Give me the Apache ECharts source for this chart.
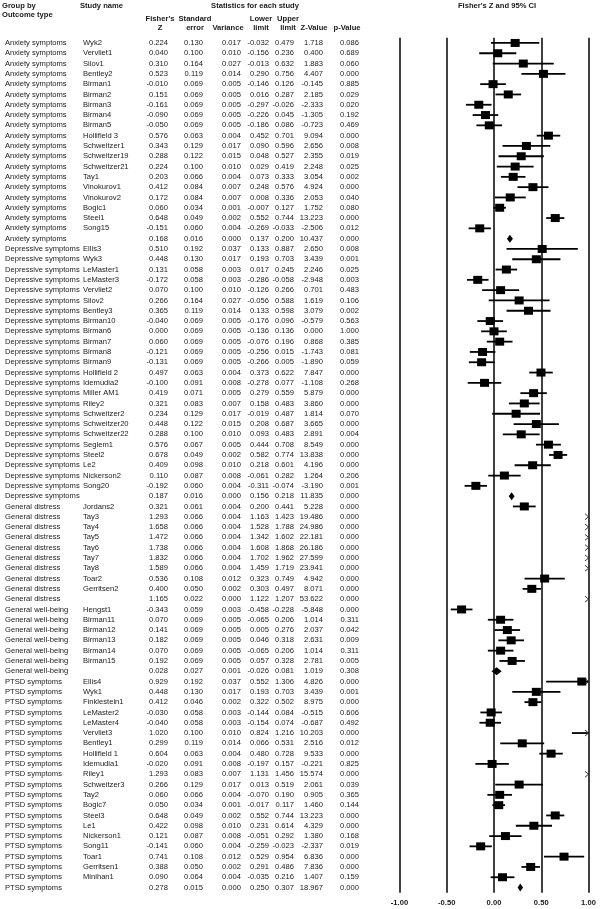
<!DOCTYPE html>
<html><head><meta charset="utf-8">
<script src="https://cdn.jsdelivr.net/npm/echarts@6/dist/echarts.min.js"></script>
<style>html,body{margin:0;padding:0;background:#fff}#c{width:600px;height:909px}</style>
</head><body><div id="c"></div>
<script>
const groups = [
 'Anxiety symptoms','Anxiety symptoms','Anxiety symptoms','Anxiety symptoms','Anxiety symptoms','Anxiety symptoms','Anxiety symptoms','Anxiety symptoms','Anxiety symptoms','Anxiety symptoms',
 'Anxiety symptoms','Anxiety symptoms','Anxiety symptoms','Anxiety symptoms','Anxiety symptoms','Anxiety symptoms','Anxiety symptoms','Anxiety symptoms','Anxiety symptoms','Anxiety symptoms',
 'Depressive symptoms','Depressive symptoms','Depressive symptoms','Depressive symptoms','Depressive symptoms','Depressive symptoms','Depressive symptoms','Depressive symptoms','Depressive symptoms','Depressive symptoms',
 'Depressive symptoms','Depressive symptoms','Depressive symptoms','Depressive symptoms','Depressive symptoms','Depressive symptoms','Depressive symptoms','Depressive symptoms','Depressive symptoms','Depressive symptoms',
 'Depressive symptoms','Depressive symptoms','Depressive symptoms','Depressive symptoms','Depressive symptoms',
 'General distress','General distress','General distress','General distress','General distress','General distress','General distress','General distress','General distress','General distress',
 'General well-being','General well-being','General well-being','General well-being','General well-being','General well-being','General well-being',
 'PTSD symptoms','PTSD symptoms','PTSD symptoms','PTSD symptoms','PTSD symptoms','PTSD symptoms','PTSD symptoms','PTSD symptoms','PTSD symptoms','PTSD symptoms',
 'PTSD symptoms','PTSD symptoms','PTSD symptoms','PTSD symptoms','PTSD symptoms','PTSD symptoms','PTSD symptoms','PTSD symptoms','PTSD symptoms','PTSD symptoms','PTSD symptoms'
];
const studies = [
 'Wyk2','Vervliet1','Silov1','Bentley2','Birman1','Birman2','Birman3','Birman4','Birman5','Hollifield 3',
 'Schweitzer1','Schweitzer19','Schweitzer21','Tay1','Vinokurov1','Vinokurov2','Bogic1','Steel1','Song15','',
 'Ellis3','Wyk3','LeMaster1','LeMaster3','Vervliet2','Silov2','Bentley3','Birman10','Birman6','Birman7',
 'Birman8','Birman9','Hollifield 2','Idemudia2','Miller AM1','Riley2','Schweitzer2','Schweitzer20','Schweitzer22','Seglem1',
 'Steel2','Le2','Nickerson2','Song20','',
 'Jordans2','Tay3','Tay4','Tay5','Tay6','Tay7','Tay8','Toar2','Gerritsen2','',
 'Hengst1','Birman11','Birman12','Birman13','Birman14','Birman15','',
 'Ellis4','Wyk1','Finklestein1','LeMaster2','LeMaster4','Vervliet3','Bentley1','Hollifield 1','Idemudia1','Riley1',
 'Schweitzer3','Tay2','Bogic7','Steel3','Le1','Nickerson1','Song11','Toar1','Gerritsen1','Minihan1',''
];
const fisherZ = [
 0.224,0.040,0.310,0.523,-0.010,0.151,-0.161,-0.090,-0.050,0.576,
 0.343,0.288,0.224,0.203,0.412,0.172,0.060,0.648,-0.151,0.168,
 0.510,0.448,0.131,-0.172,0.070,0.266,0.365,-0.040,0.000,0.060,
 -0.121,-0.131,0.497,-0.100,0.419,0.321,0.234,0.448,0.288,0.576,
 0.678,0.409,0.110,-0.192,0.187,
 0.321,1.293,1.658,1.472,1.738,1.832,1.589,0.536,0.400,1.165,
 -0.343,0.070,0.141,0.182,0.070,0.192,0.028,
 0.929,0.448,0.412,-0.030,-0.040,1.020,0.299,0.604,-0.020,1.293,
 0.266,0.060,0.050,0.648,0.422,0.121,-0.141,0.741,0.388,0.090,0.278
];
const stdErr = [
 0.130,0.100,0.164,0.119,0.069,0.069,0.069,0.069,0.069,0.063,
 0.129,0.122,0.100,0.066,0.084,0.084,0.034,0.049,0.060,0.016,
 0.192,0.130,0.058,0.058,0.100,0.164,0.119,0.069,0.069,0.069,
 0.069,0.069,0.063,0.091,0.071,0.083,0.129,0.122,0.100,0.067,
 0.049,0.098,0.087,0.060,0.016,
 0.061,0.066,0.066,0.066,0.066,0.066,0.066,0.108,0.050,0.022,
 0.059,0.069,0.069,0.069,0.069,0.069,0.027,
 0.192,0.130,0.046,0.058,0.058,0.100,0.119,0.063,0.091,0.083,
 0.129,0.066,0.034,0.049,0.098,0.087,0.060,0.108,0.050,0.064,0.015
];
const variance = [
 0.017,0.010,0.027,0.014,0.005,0.005,0.005,0.005,0.005,0.004,
 0.017,0.015,0.010,0.004,0.007,0.007,0.001,0.002,0.004,0.000,
 0.037,0.017,0.003,0.003,0.010,0.027,0.014,0.005,0.005,0.005,
 0.005,0.005,0.004,0.008,0.005,0.007,0.017,0.015,0.010,0.005,
 0.002,0.010,0.008,0.004,0.000,
 0.004,0.004,0.004,0.004,0.004,0.004,0.004,0.012,0.002,0.000,
 0.003,0.005,0.005,0.005,0.005,0.005,0.001,
 0.037,0.017,0.002,0.003,0.003,0.010,0.014,0.004,0.008,0.007,
 0.017,0.004,0.001,0.002,0.010,0.008,0.004,0.012,0.002,0.004,0.000
];
const lowerLimit = [
 -0.032,-0.156,-0.013,0.290,-0.146,0.016,-0.297,-0.226,-0.186,0.452,
 0.090,0.048,0.029,0.073,0.248,0.008,-0.007,0.552,-0.269,0.137,
 0.133,0.193,0.017,-0.286,-0.126,-0.056,0.133,-0.176,-0.136,-0.076,
 -0.256,-0.266,0.373,-0.278,0.279,0.158,-0.019,0.208,0.093,0.444,
 0.582,0.218,-0.061,-0.311,0.156,
 0.200,1.163,1.528,1.342,1.608,1.702,1.459,0.323,0.303,1.122,
 -0.458,-0.065,0.005,0.046,-0.065,0.057,-0.026,
 0.552,0.193,0.322,-0.144,-0.154,0.824,0.066,0.480,-0.197,1.131,
 0.013,-0.070,-0.017,0.552,0.231,-0.051,-0.259,0.529,0.291,-0.035,0.250
];
const upperLimit = [
 0.479,0.236,0.632,0.756,0.126,0.287,-0.026,0.045,0.086,0.701,
 0.596,0.527,0.419,0.333,0.576,0.336,0.127,0.744,-0.033,0.200,
 0.887,0.703,0.245,-0.058,0.266,0.588,0.598,0.096,0.136,0.196,
 0.015,0.005,0.622,0.077,0.559,0.483,0.487,0.687,0.483,0.708,
 0.774,0.601,0.282,-0.074,0.218,
 0.441,1.423,1.788,1.602,1.868,1.962,1.719,0.749,0.497,1.207,
 -0.228,0.206,0.276,0.318,0.206,0.328,0.081,
 1.306,0.703,0.502,0.084,0.074,1.216,0.531,0.728,0.157,1.456,
 0.519,0.190,0.117,0.744,0.614,0.292,-0.023,0.954,0.486,0.216,0.307
];
const zValue = [
 1.718,0.400,1.883,4.407,-0.145,2.185,-2.333,-1.305,-0.723,9.094,
 2.656,2.355,2.248,3.054,4.924,2.053,1.752,13.223,-2.506,10.437,
 2.650,3.439,2.246,-2.948,0.701,1.619,3.079,-0.579,0.000,0.868,
 -1.743,-1.890,7.847,-1.108,5.879,3.860,1.814,3.665,2.891,8.549,
 13.838,4.196,1.264,-3.190,11.835,
 5.228,19.486,24.986,22.181,26.186,27.599,23.941,4.942,8.071,53.622,
 -5.848,1.014,2.037,2.631,1.014,2.781,1.019,
 4.826,3.439,8.975,-0.515,-0.687,10.203,2.516,9.533,-0.221,15.574,
 2.061,0.905,1.460,13.223,4.329,1.380,-2.337,6.836,7.836,1.407,18.967
];
const pValue = [
 0.086,0.689,0.060,0.000,0.885,0.029,0.020,0.192,0.469,0.000,
 0.008,0.019,0.025,0.002,0.000,0.040,0.080,0.000,0.012,0.000,
 0.008,0.001,0.025,0.003,0.483,0.106,0.002,0.563,1.000,0.385,
 0.081,0.059,0.000,0.268,0.000,0.000,0.070,0.000,0.004,0.000,
 0.000,0.000,0.206,0.001,0.000,
 0.000,0.000,0.000,0.000,0.000,0.000,0.000,0.000,0.000,0.000,
 0.000,0.311,0.042,0.009,0.311,0.005,0.308,
 0.000,0.001,0.000,0.606,0.492,0.000,0.012,0.000,0.825,0.000,
 0.039,0.365,0.144,0.000,0.000,0.168,0.019,0.000,0.000,0.159,0.000
];
const axisTicks = [-1, -0.5, 0, 0.5, 1];

const N = studies.length;
const rowIdx = studies.map((_, i) => String(i));
const FONT = '"Liberation Sans", Arial, sans-serif';
const TXT = '#1a1a1a';

// table column layout (right edges of numeric columns)
const numCols = [
  {arr: fisherZ, x: 168}, {arr: stdErr, x: 203}, {arr: variance, x: 241},
  {arr: lowerLimit, x: 269}, {arr: upperLimit, x: 294}, {arr: zValue, x: 323}, {arr: pValue, x: 359}
];

function txt(s, x, y, align, bold) {
  return {type: 'text', style: {text: s, x: x, y: y, textAlign: align, textVerticalAlign: 'middle',
    font: (bold ? 'bold ' : '') + '7.6px ' + FONT, fill: TXT}};
}

function renderTable(params, api) {
  const i = api.value(1);
  const y = api.coord([0, i])[1];
  const ch = [txt(groups[i], 5, y, 'left'), txt(studies[i], 83, y, 'left')];
  numCols.forEach(c => ch.push(txt(c.arr[i].toFixed(3), c.x, y, 'right')));
  return {type: 'group', children: ch};
}

function renderForest(params, api) {
  const fz = api.value(0), lo = api.value(1), hi = api.value(2), i = api.value(3);
  const X = v => api.coord([v, i])[0];
  const y = api.coord([0, i])[1];
  const ch = [];
  const isSum = studies[i] === '';
  const arrow = () => ch.push({type: 'polyline', shape: {points: [[X(1) - 3.5, y - 3], [X(1), y], [X(1) - 3.5, y + 3]]},
      style: {stroke: '#333', lineWidth: 1, fill: null}});
  if (isSum) {
    if (lo >= -1 && hi <= 1) {
      ch.push({type: 'polygon', shape: {points: [[X(lo), y], [X(fz), y - 4], [X(hi), y], [X(fz), y + 4]]},
        style: {fill: '#000'}});
    } else arrow();
  } else {
    const a = Math.max(lo, -1), b = Math.min(hi, 1);
    if (a < b) ch.push({type: 'line', shape: {x1: X(a), y1: y, x2: X(b), y2: y}, style: {stroke: '#000', lineWidth: 1.8}});
    if (fz >= -1 && fz <= 1) ch.push({type: 'rect', shape: {x: X(fz) - 4.5, y: y - 4, width: 9, height: 8}, style: {fill: '#000'}});
    if (hi > 1) arrow();
  }
  return {type: 'group', children: ch};
}

const chart = echarts.init(document.getElementById('c'), null, {renderer: 'canvas'});
const hdr = (s, x, y, align) => ({type: 'text', style: {text: s, x: x, y: y, textAlign: align || 'center',
  textVerticalAlign: 'middle', font: 'bold 7.6px ' + FONT, fill: TXT}});
chart.setOption({
  animation: false,
  backgroundColor: '#fff',
  grid: {left: 399.5, right: 11.5, top: 37.8, height: 854.9, containLabel: false},
  xAxis: {type: 'value', min: axisTicks[0], max: axisTicks[axisTicks.length - 1], interval: 0.5,
    axisLine: {show: false}, axisTick: {show: false},
    splitLine: {show: true, showMinLine: true, showMaxLine: true, lineStyle: {color: '#111', width: 1.6}},
    axisLabel: {formatter: v => v.toFixed(2), fontFamily: FONT, fontWeight: 'bold', fontSize: 7.6, color: TXT, margin: 6}},
  yAxis: {type: 'category', data: rowIdx, inverse: true, show: false},
  graphic: [
    hdr('Group by', 2, 6, 'left'), hdr('Outcome type', 2, 15, 'left'),
    hdr('Study name', 80, 6, 'left'), hdr('Statistics for each study', 255, 6),
    hdr('Fisher\'s Z and 95% CI', 497, 6),
    hdr('Fisher\'s', 160, 19), hdr('Z', 160, 28),
    hdr('Standard', 195, 19), hdr('error', 195, 28),
    hdr('Variance', 228, 28),
    hdr('Lower', 261, 19), hdr('limit', 261, 28),
    hdr('Upper', 288, 19), hdr('limit', 288, 28),
    hdr('Z-Value', 314, 28), hdr('p-Value', 347, 28)
  ],
  series: [
    {type: 'custom', renderItem: renderTable, clip: false, silent: true,
     data: rowIdx.map((_, i) => [0, i]), encode: {x: 0, y: 1}},
    {type: 'custom', renderItem: renderForest, clip: false, silent: true,
     data: fisherZ.map((v, i) => [v, lowerLimit[i], upperLimit[i], i]), encode: {x: [0, 1, 2], y: 3}}
  ]
});
</script></body></html>
